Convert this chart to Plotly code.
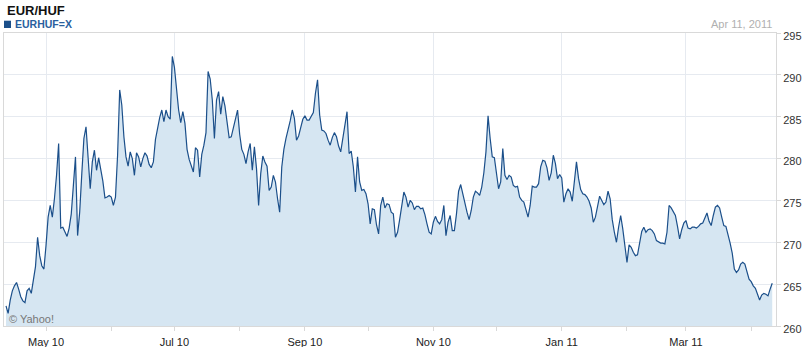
import pandas as pd
import plotly.graph_objects as go

# ---- data (EUR/HUF daily close) ----
start_date = "2010-04-12"
vals_apr_jun_2010 = [
    262.4, 261.5, 263.1, 264.2, 264.8, 265.2, 264.4, 263.5, 263.0, 262.8,
    264.2, 264.5, 263.9, 265.6, 267.1, 270.6, 268.4, 267.2, 266.8, 269.6,
    273.0, 274.4, 273.0, 275.2, 278.0, 281.8, 271.7, 271.8, 271.2, 270.7,
    271.7, 273.4, 276.8, 280.2, 270.8, 273.6, 278.2, 282.4, 283.8, 279.6,
    276.4, 279.6, 281.0, 278.6, 280.1, 278.7, 277.3, 275.3, 275.4, 275.6,
    275.4, 274.4, 275.4, 280.4, 288.2, 286.4, 282.6, 280.2, 279.1, 280.8,
    280.0, 278.0, 280.7, 280.2, 279.0, 280.0, 280.7, 280.3, 279.3, 278.9,
    279.6, 282.3, 283.7, 284.9, 285.8, 284.4, 285.8, 285.0, 284.7, 292.2,
]
vals_jul_sep_2010 = [
    290.9, 288.4, 285.8, 284.3, 285.6, 284.2, 281.1, 279.9, 279.0, 278.4,
    281.3, 281.0, 277.8, 280.5, 281.6, 283.1, 290.4, 289.5, 287.0, 282.4,
    287.0, 288.0, 285.3, 287.4, 286.3, 284.1, 282.5, 282.6, 283.8, 285.0,
    285.8, 282.9, 281.1, 280.5, 279.4, 280.8, 281.8, 278.6, 281.4, 278.8,
    274.4, 278.2, 280.3, 279.6, 279.1, 276.2, 276.6, 278.0, 277.2, 275.2,
    273.6, 279.0, 281.1, 282.4, 283.4, 284.5, 285.8, 284.8, 282.2, 282.7,
    283.7, 284.7, 285.1, 284.6, 284.6, 285.0, 285.5, 287.8, 289.4, 285.2,
    283.4, 283.3, 283.0, 282.2, 281.6, 282.5, 283.1, 282.6, 281.5, 280.8,
    282.3, 284.1, 285.6, 280.6, 280.9, 279.0, 276.0, 280.2, 277.2, 276.2,
    276.3,
]
vals_oct_dec_2010 = [
    275.8, 274.6, 272.2, 274.0, 273.9, 272.1, 271.0, 274.4, 275.4, 274.1,
    274.6, 274.5, 273.6, 273.4, 270.6, 271.2, 272.7, 274.4, 276.0, 275.4,
    274.2, 275.0, 274.7, 273.9, 274.3, 274.3, 274.0, 274.1, 273.3, 272.2,
    271.2, 271.0, 272.4, 273.1, 272.5, 272.2, 272.7, 274.4, 270.8, 272.4,
    273.2, 271.4, 271.4, 273.4, 276.1, 276.9, 275.8, 274.4, 273.6, 272.7,
    273.8, 275.4, 276.1, 275.9, 275.6, 276.6, 278.3, 280.8, 285.1, 282.4,
    280.2, 280.1, 278.2, 276.4, 277.2, 281.2, 278.0, 277.5, 278.0, 277.8,
    276.8, 276.6, 276.7, 275.4, 275.0, 274.8, 273.9, 273.0, 274.4, 276.7,
    276.6, 276.6, 277.0, 279.0, 279.8, 279.7, 278.9, 277.4, 278.3, 280.4,
    279.4, 277.6,
]
vals_jan_apr_2011 = [
    278.1, 277.7, 274.8, 275.8, 276.4, 276.0, 274.9, 277.2, 279.6, 277.6,
    276.3, 275.8, 275.7, 275.4, 274.9, 274.1, 272.4, 273.0, 274.4, 275.5,
    275.0, 274.5, 274.8, 276.1, 275.2, 272.7, 271.2, 270.0, 271.8, 273.2,
    271.6, 269.2, 267.6, 269.7, 269.4, 268.8, 268.4, 268.5, 270.2, 271.3,
    271.8, 271.2, 271.5, 271.6, 271.4, 271.0, 270.2, 270.0, 269.9, 269.9,
    269.8, 271.2, 274.4, 274.1, 273.6, 273.2, 271.9, 270.4, 271.5, 272.3,
    272.6, 271.7, 271.6, 271.8, 271.8, 271.7, 271.9, 272.2, 272.3, 272.9,
    273.5, 272.5, 272.0, 273.2, 274.2, 274.4, 274.1, 273.0, 272.0, 271.9,
    271.0, 269.9, 268.7, 266.8, 266.4, 266.7, 267.4, 267.6, 267.4, 266.3,
    265.6, 265.3, 264.8, 264.5, 263.9, 263.1, 263.7, 263.9, 263.8, 263.6,
    264.4, 265.1,
]
values = vals_apr_jun_2010 + vals_jul_sep_2010 + vals_oct_dec_2010 + vals_jan_apr_2011
dates = pd.date_range(start_date, periods=len(values), freq="D")

title_text = "EUR/HUF"
series_name = "EURHUF=X"
date_label = "Apr 11, 2011"
credit = "© Yahoo!"
y_ticks = [260, 265, 270, 275, 280, 285, 290, 295]

LINE = "#1b4f8a"
FILL = "#d6e6f2"
GRID = "#e6eaf0"
AXIS = "#d9d9d9"
FONT = "Liberation Sans, Arial, sans-serif"

fig = go.Figure()
fig.add_trace(go.Scatter(
    x=dates, y=values, mode="lines", name=series_name,
    line=dict(color=LINE, width=1.2),
    fill="tozeroy", fillcolor=FILL,
    hoverinfo="x+y",
))

fig.update_layout(
    width=802, height=347,
    margin=dict(l=4, r=26, t=33, b=21),
    paper_bgcolor="white", plot_bgcolor="white",
    showlegend=False,
    font=dict(family=FONT, size=11, color="#333333"),
    xaxis=dict(
        type="date", automargin=False,
        range=["2010-04-11 01:00", "2011-04-12 19:00"],
        tick0="2010-05-01", dtick="M2", tickformat="%b %y",
        ticks="outside", ticklen=4, tickcolor=AXIS,
        ticklabelstandoff=2,
        showgrid=True, gridcolor=GRID, gridwidth=1,
        showline=True, linecolor=AXIS, linewidth=1, mirror=True,
        minor=dict(dtick="M1", tick0="2010-05-01", ticks="outside", ticklen=4,
                   tickcolor=AXIS, showgrid=False),
        tickfont=dict(family=FONT, size=11, color="#222222"),
        zeroline=False,
    ),
    yaxis=dict(
        side="right", range=[260, 295], automargin=False,
        tickvals=y_ticks,
        ticks="outside", ticklen=4, tickcolor=AXIS,
        ticklabelshift=3,
        showgrid=True, gridcolor=GRID, gridwidth=1,
        showline=True, linecolor=AXIS, linewidth=1, mirror=True,
        tickfont=dict(family=FONT, size=11, color="#333333"),
        zeroline=False,
    ),
    shapes=[
        dict(type="rect", xref="paper", yref="paper",
             x0=0.0, x1=0.0091, y0=1.017, y1=1.042,
             fillcolor="#1b4f8a", line=dict(width=0)),
    ],
    annotations=[
        dict(text="<b>" + title_text + "</b>", xref="paper", yref="paper",
             x=0.0008, y=1.077, xanchor="left", yanchor="middle", showarrow=False,
             font=dict(family=FONT, size=13, color="#111111")),
        dict(text="<b>" + series_name + "</b>", xref="paper", yref="paper",
             x=0.0115, y=1.030, xanchor="left", yanchor="middle", showarrow=False,
             font=dict(family=FONT, size=10.5, color="#2a5f9e")),
        dict(text=date_label, xref="paper", yref="paper",
             x=0.997, y=1.030, xanchor="right", yanchor="middle", showarrow=False,
             font=dict(family=FONT, size=11, color="#b0b0b0")),
        dict(text=credit, xref="paper", yref="paper",
             x=0.004, y=0.024, xanchor="left", yanchor="middle", showarrow=False,
             font=dict(family=FONT, size=11, color="#777777")),
    ],
)

fig.write_html("out.html")
